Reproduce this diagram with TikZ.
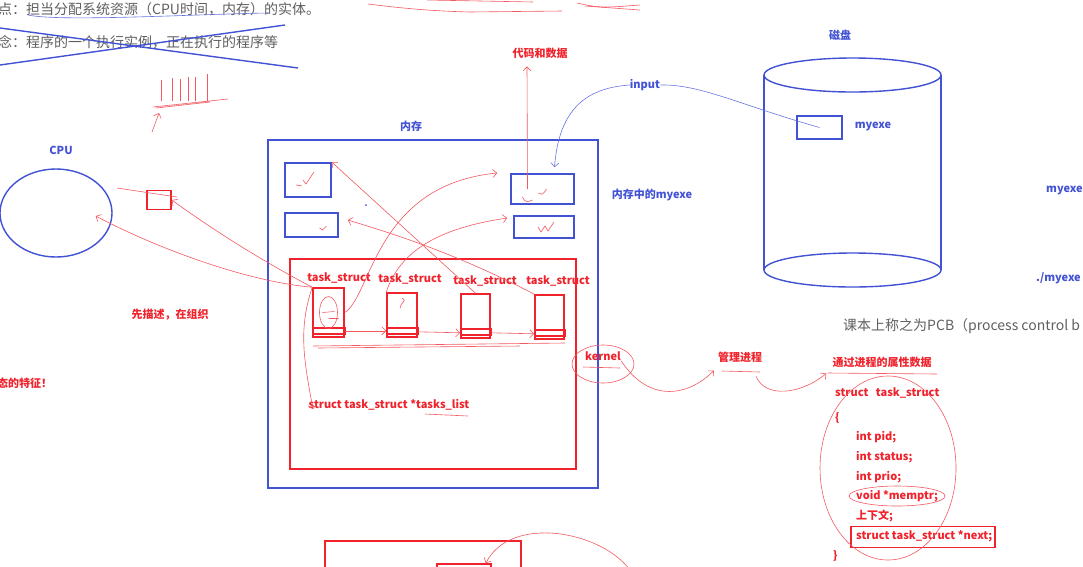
\documentclass[tikz,border=0pt]{standalone}
\usepackage{fontspec}
\setmainfont{Noto Sans CJK SC}
\usetikzlibrary{arrows.meta,shapes.geometric}
\definecolor{penblue}{RGB}{66,82,212}
\definecolor{penred}{RGB}{240,34,44}
\definecolor{notegray}{RGB}{96,96,96}
\begin{document}
\begin{tikzpicture}[
  x=1pt,y=-1pt,
  >={Straight Barb[length=4pt,width=8pt]},
  blab/.style={text=penblue, font=\bfseries\fontsize{11}{13}\selectfont, inner sep=0pt},
  rlab/.style={text=penred, font=\bfseries\fontsize{11}{13}\selectfont, inner sep=0pt},
  note/.style={text=notegray, font=\fontsize{14}{16}\selectfont, anchor=west, inner sep=0pt},
  bbox/.style={draw=penblue, line width=1.6pt, inner sep=0pt},
  rbox/.style={draw=penred, line width=1.6pt, inner sep=0pt},
  bline/.style={draw=penblue, line width=1.4pt},
  bthin/.style={draw=penblue!80, line width=0.6pt},
  rthin/.style={draw=penred!75, line width=0.6pt}
]
\useasboundingbox[fill=white] (0,0) rectangle (1083,566);
\clip (0,0) rectangle (1083,566);

% notes at the top
\node[note] (def1) at (-2,9) {点：担当分配系统资源（CPU时间，内存）的实体。};
\node[note] (def2) at (-2,42) {念：程序的一个执行实例，正在执行的程序等};
\draw[bthin] (28,15) .. controls (60,22) and (200,14) .. (268,13);
\draw[bline] (0,28) -- (298,68);
\draw[bline] (0,65) -- (285,25);
\draw[rthin] (368,4) .. controls (400,8) and (430,11) .. (470,12) -- (562,11);
\draw[rthin] (427,0) -- (533,2);
\draw[rthin] (577,3) .. controls (600,8) .. (640,5);
\draw[rthin] (585,6) -- (640,10);
\foreach \x/\h in {161/80,172/78,180/79,188/77,195/77,207/74}
  \draw[rthin] (\x,\h) -- (\x,101);
\draw[rthin] (153,107) -- (228,99) (156,108) -- (210,102);
\draw[rthin,->] (152,132) -- (159,113);

% cpu
\node[blab] (cpulab) at (61,150) {CPU};
\node[draw=penblue, line width=1.4pt, ellipse, minimum width=112, minimum height=88] (cpu) at (56,213) {};
\node[rbox, minimum width=24, minimum height=19] (reg) at (159,200) {};
\draw[rthin] (117,188) -- (177,197);
\node[rlab] (order) at (170,315) {先描述，在组织};
\node[rlab, anchor=west] (feat) at (-3,383) {态的特征！};

% memory
\node[blab] (memlab) at (411,126) {内存};
\node[bbox, minimum width=330, minimum height=348] (mem) at (433,314) {};
\node[bbox, minimum width=46, minimum height=34] (pcode) at (308,180) {};
\node[bbox, minimum width=53, minimum height=24] (pdata) at (311.5,225) {};
\node[bbox, minimum width=63, minimum height=30] (mcode) at (542.5,189) {};
\node[bbox, minimum width=60, minimum height=22] (mdata) at (544,227) {};
\node[blab] (memexe) at (652,195) {内存中的myexe};
\fill[penblue] (366,205) circle (1pt);
\draw[rthin] ([xshift=-5pt]pcode.center) -- ++(3,4) -- ++(8,-12);
\draw[rthin] ([xshift=-12pt,yshift=-5pt]pcode.center) -- ++(6,1);
\draw[rthin] ([xshift=8pt,yshift=-3pt]pdata.center) -- ++(3,2) -- ++(4,-4);
\draw[rthin] ([xshift=-20pt,yshift=-8pt]mcode.center) .. controls ++(2,6) and ++(-4,2) .. ++(10,3);
\draw[rthin] ([xshift=-4pt,yshift=-4pt]mcode.center) .. controls ++(4,2) .. ++(8,-4);
\draw[rthin] ([xshift=-6pt]mdata.center) -- ++(3,5) -- ++(4,-6) -- ++(3,5) -- ++(6,-9);
\node[rbox, minimum width=286, minimum height=210] (plist) at (433,364) {};
\node[rlab] (l1) at (339,278) {task\_struct};
\node[rlab] (l2) at (410,279) {task\_struct};
\node[rlab] (l3) at (485,281) {task\_struct};
\node[rlab] (l4) at (558,281) {task\_struct};
\node[rbox, minimum width=31, minimum height=49] (t1) at (328.5,312.5) {};
\node[rbox, minimum width=30, minimum height=44] (t2) at (402,315) {};
\node[rbox, minimum width=29, minimum height=44] (t3) at (475.5,316) {};
\node[rbox, minimum width=29, minimum height=44] (t4) at (549.5,317) {};
\foreach \t in {t1,t2,t3,t4}
  \draw[draw=penred, line width=1.4pt] ([yshift=10pt]\t.south west) rectangle ([yshift=4pt]\t.south east);
\draw[rthin,->] ([yshift=7pt]t1.south east) -- ([yshift=7pt]t2.south west);
\draw[rthin,->] ([yshift=6pt]t2.south east) -- ([yshift=6pt]t3.south west);
\draw[rthin,->] ([yshift=6pt]t3.south east) -- ([yshift=6pt]t4.south west);
\draw[rthin] (t1.center) ellipse [x radius=9, y radius=16];
\draw[rthin] ([xshift=-6pt]t1.center) -- ++(12,-1) ([yshift=-6pt]t1.center) -- ++(10,0);
\draw[rthin] ([yshift=-6pt]t2.north) .. controls ++(6,3) and ++(0,-6) .. ++(-2,10);
\draw[rthin] (313,346) -- (565,343) (318,348) -- (520,346);
\node[rlab] (tlist) at (389,405) {struct task\_struct *tasks\_list};
\draw[rthin] (425,414) -- (468,416);
\draw[rthin,->] (t1.north west) .. controls (298,330) and (304,360) .. ([xshift=-76pt,yshift=-10pt]tlist.north);
\draw[rthin,->] (t1.north west) .. controls (270,265) and (220,235) .. (reg.east);
\draw[rthin,->] (t1.north west) .. controls (250,282) and (160,250) .. ([xshift=-17pt,yshift=-3pt]cpu.east);
\draw[rthin,->] (t1.east) .. controls (372,295) and (375,185) .. ([xshift=-13pt,yshift=16pt]mcode.west);
\draw[rthin,->] (t2.north west) .. controls (400,250) and (440,228) .. ([xshift=-6pt,yshift=9pt]mdata.west);
\draw[rthin,->] (t3.north) -- (pcode.north east);
\draw[rthin,->] (t4.north west) .. controls (450,250) and (380,230) .. ([xshift=9pt,yshift=5pt]pdata.east);

% disk
\node[blab] (disklab) at (840,35) {磁盘};
\draw[bline] (764,75) -- (764,270) (941,75) -- (941,270);
\draw[bline] (852.5,75) ellipse [x radius=88.5, y radius=17];
\draw[bline] (852.5,270) ellipse [x radius=88.5, y radius=17];
\node[bbox, minimum width=45, minimum height=23] (dexe) at (819.5,127.5) {};
\node[blab] (diskexe) at (873,126) {myexe};
\node[blab] (input) at (645,85) {input};
\draw[bthin,->] (dexe.center) .. controls (740,105) and (700,84) .. (input.east)
  (input.west) .. controls (585,88) and (559,110) .. ([xshift=12pt,yshift=6pt]mcode.north);
\node[rlab] (cdata) at (540,53) {代码和数据};
\draw[rthin,->] ([xshift=-15pt]mcode.center) -- ([xshift=-13pt,yshift=-8pt]cdata.south);
\node[blab, anchor=west] (run1) at (1046,190) {myexe};
\node[blab, anchor=west] (run2) at (1036,278) {./myexe};
\node[note] (pcb) at (843,326) {课本上称之为PCB（process control b};

% kernel and pcb
\node[rlab] (kern) at (603,356) {kernel};
\draw[rthin] ([yshift=-8pt]kern.center) ellipse [x radius=31, y radius=19];
\draw[rthin] (583,367) -- (620,368);
\node[rlab] (manage) at (740,357) {管理进程};
\draw[rthin] (722,371) -- (760,372);
\node[rlab] (attr) at (882,362) {通过进程的属性数据};
\draw[rthin] (828,373) -- (937,374);
\draw[rthin,->] (kern.south east) .. controls (650,405) and (690,395) .. ([xshift=-4pt,yshift=-8pt]manage.south west);
\draw[rthin,->] ([xshift=-6pt,yshift=-14pt]manage.south east) .. controls (765,398) and (800,395) .. ([xshift=-6pt,yshift=-6pt]attr.south west);
\node[rlab, anchor=west] (c0) at (835,393) {struct \ \ task\_struct};
\node[rlab, anchor=west] (c1) at (835,418) {\{};
\node[rlab, anchor=west] (c2) at (856,437) {int pid;};
\node[rlab, anchor=west] (c3) at (856,457) {int status;};
\node[rlab, anchor=west] (c4) at (856,477) {int prio;};
\node[rlab, anchor=west] (c5) at (856,496) {void *memptr;};
\node[rlab, anchor=west] (c6) at (856,516) {上下文;};
\node[rlab, anchor=west] (c7) at (856,536) {struct task\_struct *next;};
\node[rlab, anchor=west] (c8) at (833,556) {\}};
\node[rbox, minimum width=144, minimum height=21] (nextbox) at (923,537) {};
\draw[rthin] (c5.center) ellipse [x radius=48, y radius=10];
\draw[rthin] (888,468) ellipse [x radius=68, y radius=92];

% bottom
\node[rbox, minimum width=196, minimum height=44] (low) at (423,563) {};
\node[rbox, minimum width=54, minimum height=22] (lowin) at (464,575) {};
\coordinate (lowend) at (630,570);
\draw[rthin,->] (lowend) .. controls (600,530) and (510,515) .. ([xshift=-6pt]lowin.north east);
\end{tikzpicture}
\end{document}
